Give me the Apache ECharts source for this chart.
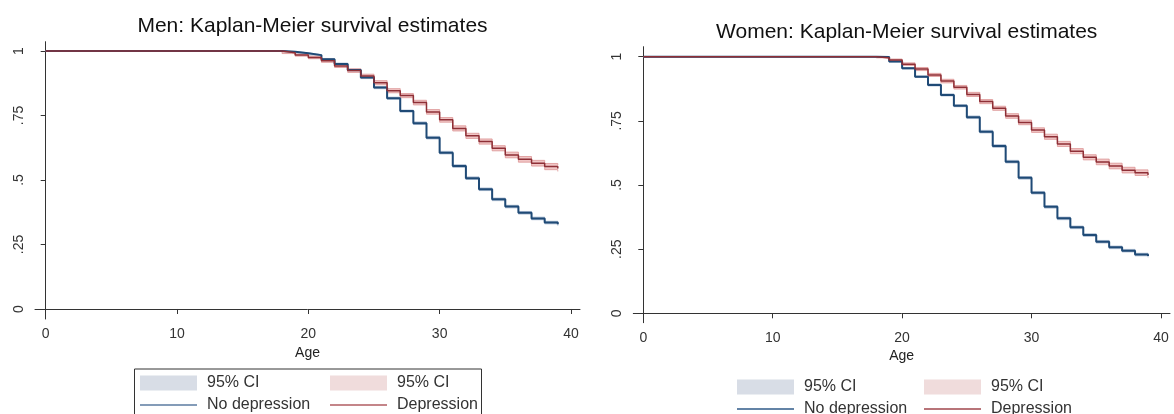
<!DOCTYPE html>
<html>
<head lang="en">
  <meta charset="UTF-8">
  <title>Kaplan-Meier survival estimates</title>
  <script src="https://cdn.jsdelivr.net/npm/echarts@6/dist/echarts.min.js"></script>
  <style>
  html, body {
    margin: 0;
    padding: 0;
    background: #fff;
  }
  #main {
    width: 1174px;
    height: 414px;
  }
  </style>
</head>
<body>
  <div id="main"></div>
<script>
// ages where the estimate changes (value holds until the next age)
var ages = [0, 18, 19, 20, 21, 22, 23, 24, 25, 26, 27, 28, 29, 30, 31, 32, 33, 34, 35, 36, 37, 38, 39];
var xTicks = [0, 10, 20, 30, 40];
var yTicks = [0, 0.25, 0.5, 0.75, 1];
var yTickLabels = ['0', '.25', '.5', '.75', '1'];

// men
var menNoDep   = [1, .997, .991, .984, .968, .950, .926, .897, .858, .817, .767, .720, .664, .606, .554, .507, .464, .425, .397, .373, .351, .335, .328];
var menNoDepCI = [0, .001, .002, .002, .003, .003, .003, .004, .004, .004, .004, .005, .005, .005, .005, .005, .005, .005, .005, .005, .005, .005, .005];
var menDep     = [1, .993, .984, .975, .962, .942, .924, .903, .877, .846, .827, .800, .764, .733, .700, .671, .649, .623, .597, .580, .565, .552, .545];
var menDepCI   = [0, .003, .004, .005, .006, .006, .007, .007, .008, .008, .008, .009, .009, .009, .010, .010, .010, .010, .011, .011, .011, .012, .012];

// women
var womenNoDep   = [1, .999, .981, .955, .922, .890, .851, .809, .764, .708, .652, .591, .528, .470, .415, .370, .335, .305, .279, .257, .244, .229, .223];
var womenNoDepCI = [0, .001, .002, .003, .003, .004, .004, .004, .005, .005, .005, .005, .005, .005, .005, .005, .005, .005, .005, .005, .005, .005, .005];
var womenDep     = [1, .996, .987, .971, .952, .929, .905, .881, .853, .825, .799, .769, .744, .714, .688, .660, .632, .608, .590, .574, .558, .548, .539];
var womenDepCI   = [0, .003, .004, .005, .006, .006, .007, .007, .008, .008, .008, .009, .009, .009, .010, .010, .010, .010, .011, .011, .011, .011, .012];

var labels = {
  menNoDepCI: '95% CI', menDepCI: '95% CI', menNoDep: 'No depression', menDep: 'Depression',
  womenNoDepCI: '95% CI', womenDepCI: '95% CI', womenNoDep: 'No depression', womenDep: 'Depression'
};

var FONT = "'Liberation Sans', Arial, Helvetica, sans-serif";
var NAVY = '#1f4a76', MAROON = '#8e2f36';
var BLUE_BAND = '#c3cedc', BLUE_EDGE = '#9fb3cb';
var RED_BAND = '#f1c6c6', RED_EDGE = '#dc9494';
var LINE_ICON = 'path://M0,0L60,0L60,1.6L0,1.6Z';

var myChart = echarts.init(document.getElementById('main'));

function pts(vals, ci, sign) {
  return ages.map(function(a, i) {
    return [a, vals[i] + sign * ci[i]];
  });
}

function bandData(vals, ci) {
  var out = [];
  for (var i = 0; i < ages.length - 1; i++) {
    out.push([ages[i], vals[i] - ci[i], vals[i] + ci[i], ages[i + 1]]);
  }
  return out;
}

function renderBand(params, api) {
  var p0 = api.coord([api.value(0), api.value(2)]);
  var p1 = api.coord([api.value(3), api.value(1)]);
  return {
    type: 'rect',
    shape: { x: p0[0], y: p0[1], width: p1[0] - p0[0], height: p1[1] - p0[1] },
    style: { fill: api.visual('color') }
  };
}

function bandSeries(name, gi, vals, ci, fill, edge) {
  var edgeStyle = { color: edge, width: 0.8 };
  return [{
    type: 'custom',
    name: name,
    xAxisIndex: gi,
    yAxisIndex: gi,
    renderItem: renderBand,
    encode: { x: [0, 3], y: [1, 2] },
    itemStyle: { color: fill },
    data: bandData(vals, ci),
    silent: true,
    z: 1
  }, {
    type: 'line', xAxisIndex: gi, yAxisIndex: gi, step: 'end', symbol: 'none',
    data: pts(vals, ci, -1), lineStyle: edgeStyle, silent: true, z: 2
  }, {
    type: 'line', xAxisIndex: gi, yAxisIndex: gi, step: 'end', symbol: 'none',
    data: pts(vals, ci, 1), lineStyle: edgeStyle, silent: true, z: 2
  }];
}

function lineSeries(name, gi, vals, color, width) {
  return {
    type: 'line',
    name: name,
    xAxisIndex: gi,
    yAxisIndex: gi,
    step: 'end',
    symbol: 'none',
    data: pts(vals, vals.map(function() { return 0; }), 1),
    lineStyle: { color: color, width: width },
    itemStyle: { color: color },
    silent: true,
    z: 3
  };
}

function xAxisFor(gi, min, max, gap) {
  return {
    type: 'value', gridIndex: gi, min: min, max: max,
    name: 'Age', nameLocation: 'middle', nameGap: gap,
    nameTextStyle: { fontSize: 14, color: '#222', fontFamily: FONT },
    axisLine: { lineStyle: { color: '#333', width: 1 } },
    axisTick: { length: 5, customValues: xTicks, lineStyle: { color: '#333' } },
    axisLabel: { customValues: xTicks, fontSize: 14, color: '#333', margin: 8, fontFamily: FONT },
    splitLine: { show: false }
  };
}

function yAxisFor(gi, min, max) {
  return {
    type: 'value', gridIndex: gi, min: min, max: max,
    axisLine: { show: true, lineStyle: { color: '#333', width: 1 } },
    axisTick: { show: true, length: 5, customValues: yTicks, lineStyle: { color: '#333' } },
    axisLabel: {
      customValues: yTicks, rotate: 90, fontSize: 14, color: '#333', margin: 9, fontFamily: FONT,
      formatter: function(v) {
        for (var i = 0; i < yTicks.length; i++) {
          if (Math.abs(yTicks[i] - v) < 1e-6) return yTickLabels[i];
        }
        return '';
      }
    },
    splitLine: { show: false }
  };
}

function legendFor(left, top, items) {
  return {
    left: left, top: top, orient: 'vertical',
    height: 60, padding: 0,
    itemWidth: 57, itemHeight: 15, itemGap: 6,
    symbolKeepAspect: true,
    selectedMode: false,
    data: items,
    formatter: function(n) { return labels[n]; },
    textStyle: { fontSize: 16, color: '#333', fontFamily: FONT, lineHeight: 15, padding: [0, 0, 0, 5] }
  };
}

var titleStyle = { fontSize: 21, fontWeight: 'normal', color: '#111', fontFamily: FONT };

option = {
  backgroundColor: '#fff',
  animation: false,
  title: [
    { text: 'Men: Kaplan-Meier survival estimates', left: 307.5, top: 11, textAlign: 'center', textStyle: titleStyle },
    { text: 'Women: Kaplan-Meier survival estimates', left: 901.7, top: 17, textAlign: 'center', textStyle: titleStyle }
  ],
  grid: [
    { left: 35, top: 41.7, width: 545, height: 277.3 },
    { left: 633.3, top: 46.7, width: 536.7, height: 276 }
  ],
  xAxis: [xAxisFor(0, -0.815, 40.69, 27), xAxisFor(1, -0.773, 40.70, 26)],
  yAxis: [yAxisFor(0, -0.0388, 1.036), yAxisFor(1, -0.0366, 1.039)],
  legend: [
    legendFor(140, 375, [
      { name: 'menNoDepCI', icon: 'rect', itemStyle: { color: '#d8dde6' } },
      { name: 'menNoDep', icon: LINE_ICON, itemStyle: { color: '#5b7ba0' } }
    ]),
    legendFor(330, 375, [
      { name: 'menDepCI', icon: 'rect', itemStyle: { color: '#f0dcdc' } },
      { name: 'menDep', icon: LINE_ICON, itemStyle: { color: '#b05c62' } }
    ]),
    legendFor(737, 379, [
      { name: 'womenNoDepCI', icon: 'rect', itemStyle: { color: '#d8dde6' } },
      { name: 'womenNoDep', icon: LINE_ICON, itemStyle: { color: '#2f5a88' } }
    ]),
    legendFor(924, 379, [
      { name: 'womenDepCI', icon: 'rect', itemStyle: { color: '#f0dcdc' } },
      { name: 'womenDep', icon: LINE_ICON, itemStyle: { color: '#a0464c' } }
    ])
  ],
  graphic: [{
    type: 'rect',
    shape: { x: 134.5, y: 369, width: 347, height: 60 },
    style: { fill: 'none', stroke: '#333', lineWidth: 1 },
    silent: true
  }],
  series: [].concat(
    bandSeries('menNoDepCI', 0, menNoDep, menNoDepCI, BLUE_BAND, BLUE_EDGE),
    bandSeries('menDepCI', 0, menDep, menDepCI, RED_BAND, RED_EDGE),
    [lineSeries('menNoDep', 0, menNoDep, NAVY, 2), lineSeries('menDep', 0, menDep, MAROON, 1.5)],
    bandSeries('womenNoDepCI', 1, womenNoDep, womenNoDepCI, BLUE_BAND, BLUE_EDGE),
    bandSeries('womenDepCI', 1, womenDep, womenDepCI, RED_BAND, RED_EDGE),
    [lineSeries('womenNoDep', 1, womenNoDep, NAVY, 2), lineSeries('womenDep', 1, womenDep, MAROON, 1.5)]
  )
};

myChart.setOption(option);
</script>
</body>
</html>
